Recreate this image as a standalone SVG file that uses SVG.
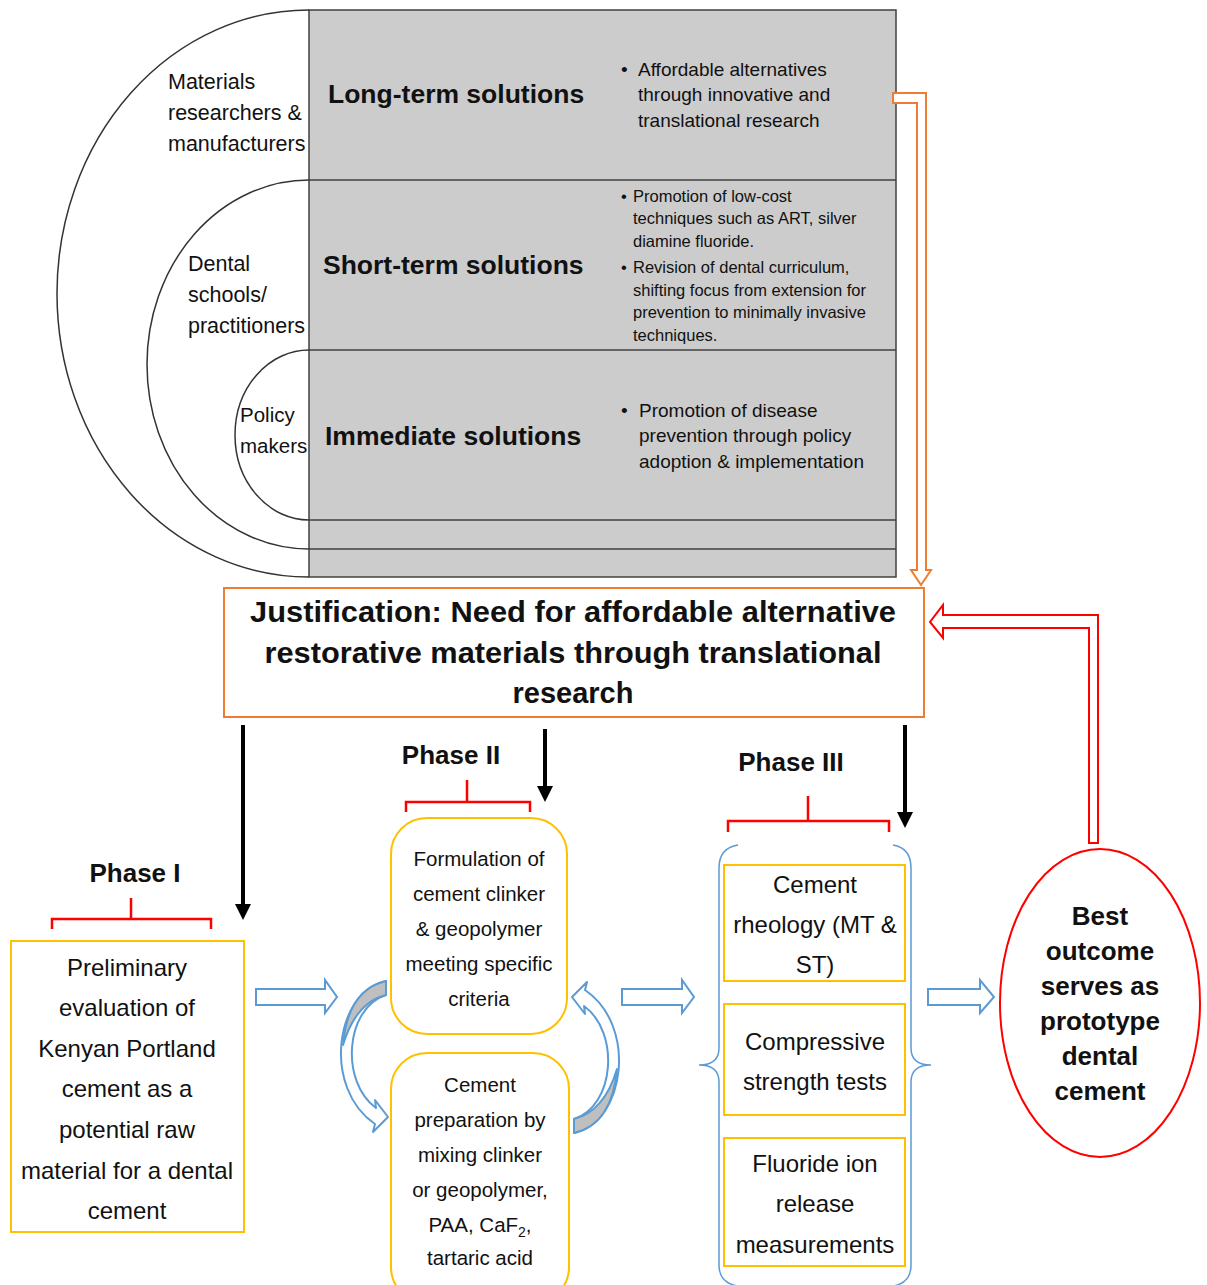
<svg xmlns="http://www.w3.org/2000/svg" width="1207" height="1285" viewBox="0 0 1207 1285">
<style>
.lbl{font-family:"Liberation Sans",Arial,sans-serif;fill:#111}
.b{font-weight:bold}
.arc{fill:none;stroke:#333;stroke-width:1.5}
.gold{fill:#fff;stroke:#FFC000;stroke-width:2}
.blue{fill:#fff;stroke:#5B9BD5;stroke-width:2}
.red{fill:none;stroke:#FF0000;stroke-width:2.5}
.blk{stroke:#000;stroke-width:4;fill:none}
</style>
<defs>
<marker id="ah" markerWidth="4" markerHeight="4" refX="3" refY="2" orient="auto" markerUnits="strokeWidth">
<path d="M0,0 L4,2 L0,4 Z" fill="#000"/>
</marker>
</defs>
<rect width="1207" height="1285" fill="#fff"/>

<g id="stakeholders">
<rect x="309" y="10" width="587" height="567" fill="#CCCCCC" stroke="#404040" stroke-width="1.5"/>
<line x1="309" y1="180" x2="896" y2="180" stroke="#404040" stroke-width="1.5"/>
<line x1="309" y1="350" x2="896" y2="350" stroke="#404040" stroke-width="1.5"/>
<line x1="309" y1="520" x2="896" y2="520" stroke="#404040" stroke-width="1.5"/>
<line x1="309" y1="549" x2="896" y2="549" stroke="#404040" stroke-width="1.5"/>
<path class="arc" d="M309,10 A252,283.5 0 0 0 309,577"/>
<path class="arc" d="M309,180 A162,184.5 0 0 0 309,549"/>
<path class="arc" d="M309,350 A74,85 0 0 0 309,520"/>
<text class="lbl" font-size="21.5" x="168"><tspan x="168" y="89">Materials</tspan><tspan x="168" y="120">researchers &amp;</tspan><tspan x="168" y="151">manufacturers</tspan></text>
<text class="lbl" font-size="21.5" x="188"><tspan x="188" y="271">Dental</tspan><tspan x="188" y="302">schools/</tspan><tspan x="188" y="333">practitioners</tspan></text>
<text class="lbl" font-size="20.5" x="240"><tspan x="240" y="422">Policy</tspan><tspan x="240" y="453">makers</tspan></text>
</g>

<g id="long-term">
<text class="lbl b" font-size="26.5" x="328" y="103">Long-term solutions</text>
<text class="lbl" font-size="19"><tspan x="621" y="76">•</tspan><tspan x="638" y="76">Affordable alternatives</tspan><tspan x="638" y="101">through innovative and</tspan><tspan x="638" y="127">translational research</tspan></text>
</g>

<g id="short-term">
<text class="lbl b" font-size="26.5" x="323" y="274">Short-term solutions</text>
<text class="lbl" font-size="16.5"><tspan x="621" y="202">•</tspan><tspan x="633" y="202">Promotion of low-cost</tspan><tspan x="633" y="224">techniques such as ART, silver</tspan><tspan x="633" y="247">diamine fluoride.</tspan><tspan x="621" y="273">•</tspan><tspan x="633" y="273">Revision of dental curriculum,</tspan><tspan x="633" y="296">shifting focus from extension for</tspan><tspan x="633" y="318">prevention to minimally invasive</tspan><tspan x="633" y="341">techniques.</tspan></text>
</g>

<g id="immediate">
<text class="lbl b" font-size="26.5" x="325" y="445">Immediate solutions</text>
<text class="lbl" font-size="19"><tspan x="621" y="417">•</tspan><tspan x="639" y="417">Promotion of disease</tspan><tspan x="639" y="442">prevention through policy</tspan><tspan x="639" y="468">adoption &amp; implementation</tspan></text>
</g>

<g id="justification">
<rect x="224" y="588" width="700" height="129" fill="#fff" stroke="#ED7D31" stroke-width="2"/>
<text class="lbl b" font-size="29" text-anchor="middle"><tspan x="573" y="622" textLength="646" lengthAdjust="spacingAndGlyphs">Justification: Need for affordable alternative</tspan><tspan x="573" y="663" textLength="617" lengthAdjust="spacingAndGlyphs">restorative materials through translational</tspan><tspan x="573" y="703">research</tspan></text>
</g>

<g id="phase1">
<text class="lbl b" font-size="26" text-anchor="middle" x="135" y="882">Phase I</text>
<rect class="gold" x="11" y="941" width="233" height="291"/>
<text class="lbl" font-size="24" text-anchor="middle"><tspan x="127" y="976">Preliminary</tspan><tspan x="127" y="1016">evaluation of</tspan><tspan x="127" y="1057">Kenyan Portland</tspan><tspan x="127" y="1097">cement as a</tspan><tspan x="127" y="1138">potential raw</tspan><tspan x="127" y="1179">material for a dental</tspan><tspan x="127" y="1219">cement</tspan></text>
</g>

<g id="phase2">
<text class="lbl b" font-size="26" text-anchor="middle" x="451" y="764">Phase II</text>
<rect class="gold" x="391" y="818" width="176" height="216" rx="36"/>
<text class="lbl" font-size="20.5" text-anchor="middle"><tspan x="479" y="866">Formulation of</tspan><tspan x="479" y="901">cement clinker</tspan><tspan x="479" y="936">&amp; geopolymer</tspan><tspan x="479" y="971">meeting specific</tspan><tspan x="479" y="1006">criteria</tspan></text>
</g>

<g id="phase2-prep">
<rect class="gold" x="391" y="1053" width="178" height="250" rx="36"/>
<text class="lbl" font-size="20.5" text-anchor="middle"><tspan x="480" y="1092">Cement</tspan><tspan x="480" y="1127">preparation by</tspan><tspan x="480" y="1162">mixing clinker</tspan><tspan x="480" y="1197">or geopolymer,</tspan><tspan x="480" y="1232">PAA, CaF<tspan font-size="14" dy="5">2</tspan><tspan dy="-5">,</tspan></tspan><tspan x="480" y="1265">tartaric acid</tspan></text>
</g>

<g id="phase3">
<text class="lbl b" font-size="26" text-anchor="middle" x="791" y="771">Phase III</text>
<rect class="gold" x="724" y="865" width="181" height="116"/>
<text class="lbl" font-size="24" text-anchor="middle"><tspan x="815" y="893">Cement</tspan><tspan x="815" y="933">rheology (MT &amp;</tspan><tspan x="815" y="973">ST)</tspan></text>
</g>
<g id="compressive">
<rect class="gold" x="724" y="1004" width="181" height="111"/>
<text class="lbl" font-size="24" text-anchor="middle"><tspan x="815" y="1050">Compressive</tspan><tspan x="815" y="1090">strength tests</tspan></text>
</g>
<g id="fluoride">
<rect class="gold" x="724" y="1138" width="181" height="128"/>
<text class="lbl" font-size="24" text-anchor="middle"><tspan x="815" y="1172">Fluoride ion</tspan><tspan x="815" y="1212">release</tspan><tspan x="815" y="1253">measurements</tspan></text>
</g>

<g id="best-outcome">
<ellipse cx="1100" cy="1003" rx="100" ry="154" fill="#fff" stroke="#FF0000" stroke-width="2"/>
<text class="lbl b" font-size="26" text-anchor="middle"><tspan x="1100" y="925">Best</tspan><tspan x="1100" y="960">outcome</tspan><tspan x="1100" y="995">serves as</tspan><tspan x="1100" y="1030">prototype</tspan><tspan x="1100" y="1065">dental</tspan><tspan x="1100" y="1100">cement</tspan></text>
</g>

<g id="connectors">
<path d="M893,93 L926,93 L926,570 L931,570 L921,585 L911,570 L917,570 L917,103 L893,103 Z" fill="#fff" stroke="#ED7D31" stroke-width="2" stroke-linejoin="miter"/>
<path d="M1098,843 L1098,615 L943,615 L943,605 L930,622 L943,638 L943,628 L1089,628 L1089,843 Z" fill="#fff" stroke="#FF0000" stroke-width="2"/>
<line class="blk" x1="243" y1="725" x2="243" y2="916" marker-end="url(#ah)"/>
<line class="blk" x1="545" y1="729" x2="545" y2="798" marker-end="url(#ah)"/>
<line class="blk" x1="905" y1="725" x2="905" y2="824" marker-end="url(#ah)"/>
<path class="red" d="M52,929 L52,919 L211,919 L211,929 M131,898 L131,919"/>
<path class="red" d="M406,812 L406,802 L530,802 L530,812 M467,780 L467,802"/>
<path class="red" d="M728,832 L728,821 L889,821 L889,832 M808,796 L808,821"/>
<path class="blue" d="M256,989 L325,989 L325,980 L337,997 L325,1013 L325,1005 L256,1005 Z"/>
<path class="blue" d="M622,989 L682,989 L682,980 L694,997 L682,1013 L682,1005 L622,1005 Z"/>
<path class="blue" d="M928,989 L980,989 L980,980 L994,997 L980,1013 L980,1005 L928,1005 Z"/>
<g id="curve-left">
<path d="M386,981 C335,992 322,1088 375,1124 L373,1132 L388,1117 L375,1100 L376,1108 C340,1082 345,1008 386,995 Z" fill="#fff" stroke="#5B9BD5" stroke-width="2" stroke-linejoin="round"/>
<path d="M386,981 C360,987 346,1010 343,1045 C352,1015 366,1000 386,995 Z" fill="#BFBFBF" stroke="#5B9BD5" stroke-width="2" stroke-linejoin="round"/>
</g>
<g id="curve-right" transform="rotate(180 480 1057)">
<path d="M386,981 C335,992 322,1088 375,1124 L373,1132 L388,1117 L375,1100 L376,1108 C340,1082 345,1008 386,995 Z" fill="#fff" stroke="#5B9BD5" stroke-width="2" stroke-linejoin="round"/>
<path d="M386,981 C360,987 346,1010 343,1045 C352,1015 366,1000 386,995 Z" fill="#BFBFBF" stroke="#5B9BD5" stroke-width="2" stroke-linejoin="round"/>
</g>
<path d="M738,845 Q719,848 719,868 L719,1048 Q719,1065 699,1065 Q719,1065 719,1082 L719,1265 Q719,1283 738,1286" fill="none" stroke="#5B9BD5" stroke-width="1.5"/>
<path d="M893,845 Q911,848 911,868 L911,1048 Q911,1065 931,1065 Q911,1065 911,1082 L911,1265 Q911,1283 893,1286" fill="none" stroke="#5B9BD5" stroke-width="1.5"/>
</g>
</svg>
